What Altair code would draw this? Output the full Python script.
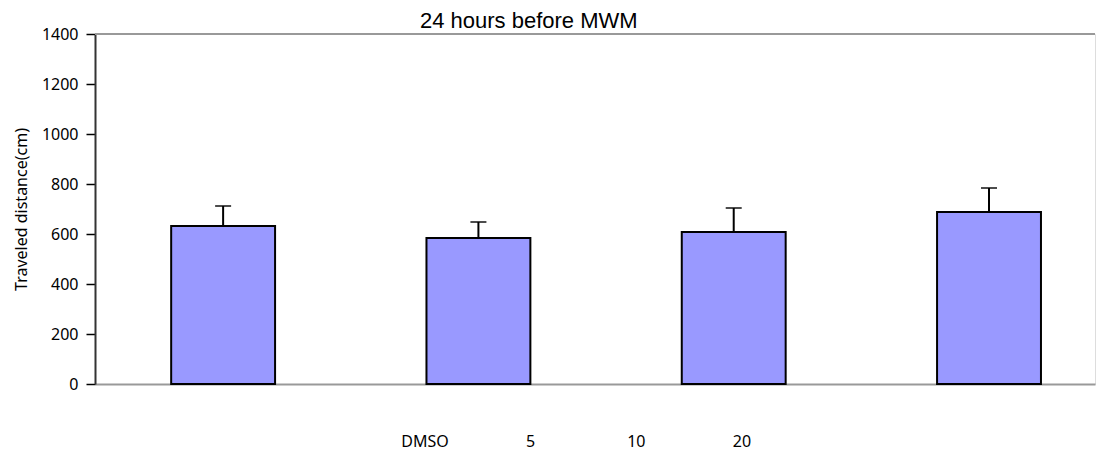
import altair as alt
import pandas as pd

groups = ["A", "B", "C", "D"]
means = [632, 584, 608, 688]
uppers = [712, 648, 704, 784]
tick_labels = ["DMSO", "5", "10", "20"]
title_text = ["24 hours before MWM"]

df = pd.DataFrame({"group": groups, "mean": means, "upper": uppers})
lab = pd.DataFrame({"label": tick_labels})
tdf = pd.DataFrame({"t": title_text})

W, H = 1000, 350
FONT = "Noto Sans"

xscale = alt.Scale(paddingInner=0.593, paddingOuter=0.255, align=0.585)
yscale = alt.Scale(domain=[0, 1400], nice=False)

x = alt.X("group:N", scale=xscale, sort=groups, title=None,
          axis=alt.Axis(labels=False, ticks=False, title=None, domainColor="#999999",
                        domainWidth=2))
y = alt.Y("mean:Q", scale=yscale, title="Traveled distance(cm)",
          axis=alt.Axis(values=list(range(0, 1401, 200)), format="d", grid=False))

bars = alt.Chart(df).mark_bar(color="#9999ff", stroke="#000000", strokeWidth=2).encode(x=x, y=y)
err = alt.Chart(df).mark_rule(color="#000000", strokeWidth=2).encode(
    x=alt.X("group:N", sort=groups), y=alt.Y("mean:Q"), y2="upper:Q")
cap = alt.Chart(df).mark_tick(color="#000000", thickness=2, size=16).encode(
    x=alt.X("group:N", sort=groups), y=alt.Y("upper:Q"))
top = alt.Chart(pd.DataFrame({"v": [1400]})).mark_rule(color="#999999", strokeWidth=2).encode(
    y=alt.Y("v:Q"))
title = alt.Chart(tdf).mark_text(font="Liberation Sans", fontSize=22, color="#000000",
                                 align="left", baseline="middle").encode(
    text="t:N", x=alt.value(325), y=alt.value(-13))

main = alt.layer(bars, err, cap, top, title)

labels = alt.Chart(lab).mark_text(font=FONT, fontSize=16, color="#000000", baseline="middle").encode(
    text="label:N",
    x=alt.X("label:N", sort=tick_labels,
            scale=alt.Scale(type="point", range=[330, 647], padding=0), axis=None),
    y=alt.value(H + 58),
)

chart = alt.layer(main, labels).resolve_scale(x="independent").properties(
    width=W, height=H,
    padding={"left": 5, "top": 2, "right": 5, "bottom": 8},
).configure_view(stroke="transparent", strokeWidth=0).configure(background="white").configure_axisY(
    domainColor="#333333", domainWidth=2,
    tickColor="#000000", tickSize=9, tickWidth=1.5,
    labelFont=FONT, labelFontSize=16, labelColor="#000000", labelPadding=8,
    titleFont=FONT, titleFontSize=16, titleFontWeight="normal",
    titleColor="#000000", titlePadding=12)

chart.save("out.html", embed_options={"renderer": "svg", "actions": False})
